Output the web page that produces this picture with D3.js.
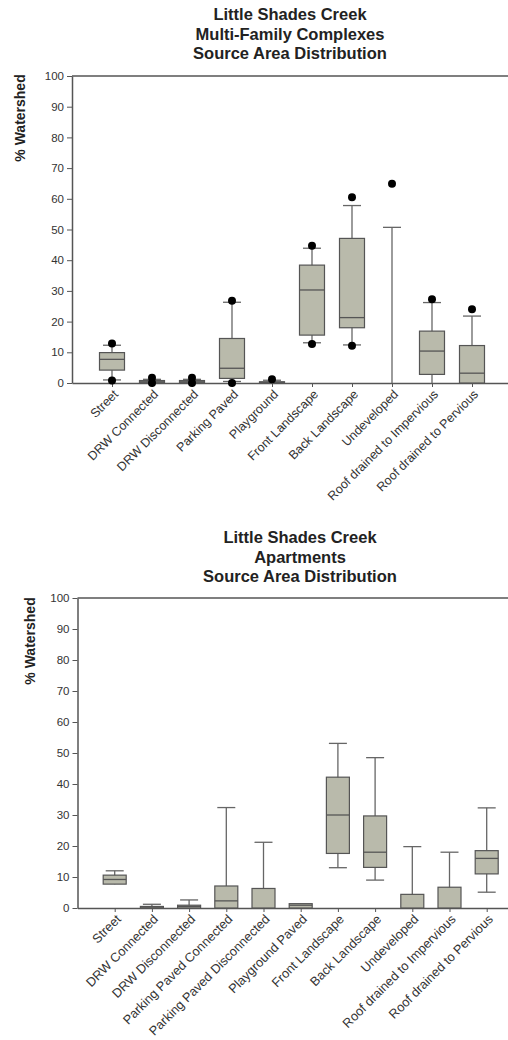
<!DOCTYPE html>
<html>
<head>
<meta charset="utf-8">
<script src="https://cdn.jsdelivr.net/npm/d3@7"></script>
<style>
  body { margin: 0; background: #fff; }
  text { font-family: "Liberation Sans", Arial, sans-serif; fill: #333; }
  .title { font-weight: bold; font-size: 16.5px; fill: #222; }
  .ylab { font-weight: bold; font-size: 14px; fill: #222; }
</style>
</head>
<body>
<div id="chart-container"></div>
<script>
const width = 508;
const height = 1040;

// --- top chart: Multi-Family Complexes ---
const cats1 = ["Street", "DRW Connected", "DRW Disconnected", "Parking Paved", "Playground",
  "Front Landscape", "Back Landscape", "Undeveloped", "Roof drained to Impervious", "Roof drained to Pervious"];
const lo1  = [1.0, 0, 0, 0.5, 0, 13.1, 12.4, 0, 0, 0];
const q1a  = [4.2, 0.1, 0.1, 1.5, 0, 15.6, 18.0, 0, 2.8, 0];
const med1 = [7.7, 0.4, 0.4, 4.8, 0.2, 30.3, 21.3, 0, 10.4, 3.2];
const q3a  = [9.9, 0.8, 0.8, 14.5, 0.4, 38.4, 47.1, 0, 16.9, 12.2];
const hi1  = [12.3, 1.2, 1.2, 26.3, 0.9, 43.9, 57.8, 50.7, 26.2, 21.8];
const dotLo1 = [0.8, 0, 0, 0, null, 12.7, 12.1, null, null, null];
const dotHi1 = [12.9, 1.7, 1.7, 26.8, 1.2, 44.7, 60.5, 64.9, 27.3, 24.0];

// --- bottom chart: Apartments ---
const cats2 = ["Street", "DRW Connected", "DRW Disconnected", "Parking Paved Connected",
  "Parking Paved Disconnected", "Playground Paved", "Front Landscape", "Back Landscape",
  "Undeveloped", "Roof drained to Impervious", "Roof drained to Pervious"];
const lo2  = [7.7, 0, 0, 0, 0, 0, 13.0, 9.0, 0, 0, 5.1];
const q1b  = [7.7, 0, 0, 0, 0, 0, 17.6, 13.1, 0, 0, 11.0];
const med2 = [9.2, 0.3, 0.5, 2.3, 0, 0.9, 30.0, 18.0, 0, 0, 16.0];
const q3b  = [10.6, 0.5, 0.9, 7.1, 6.3, 1.4, 42.2, 29.7, 4.4, 6.7, 18.5];
const hi2  = [12.0, 1.2, 2.6, 32.4, 21.2, 1.4, 53.1, 48.5, 19.8, 18.0, 32.3];

const yTicks = d3.range(0, 101, 10);

const svg = d3.select("#chart-container")
  .append("svg")
  .attr("width", width)
  .attr("height", height);

svg.append("rect").attr("width", width).attr("height", height).attr("fill", "#fff");

function drawChart(opt) {
  const g = svg.append("g");
  const x = d3.scalePoint().domain(opt.cats).range([opt.left, opt.left + opt.step * (opt.cats.length + 1)]).padding(1);
  const y = d3.scaleLinear().domain([0, 100]).range([opt.bottom, opt.top]);

  // title
  const t = g.append("text").attr("class", "title").attr("text-anchor", "middle");
  opt.title.forEach((line, i) => {
    t.append("tspan").attr("x", opt.titleX).attr("y", opt.titleY + i * 19.5).text(line);
  });

  // y label
  g.append("text").attr("class", "ylab")
    .attr("text-anchor", "middle")
    .attr("transform", `translate(${opt.ylabX},${opt.ylabY}) rotate(-90)`)
    .text("% Watershed");

  // top frame line
  g.append("line")
    .attr("x1", opt.left).attr("x2", width)
    .attr("y1", y(100)).attr("y2", y(100))
    .attr("stroke", "#555").attr("stroke-width", 1.5);

  // y axis
  const ya = g.append("g").attr("transform", `translate(${opt.left},0)`)
    .call(d3.axisLeft(y).tickValues(yTicks).tickSize(5).tickSizeOuter(0).tickPadding(3));
  ya.select(".domain").attr("stroke", "#555").attr("stroke-width", 1.5);
  ya.selectAll(".tick line").attr("stroke", "#555");
  ya.selectAll(".tick text").style("font-size", "11.5px").attr("fill", "#333");

  // x axis
  const xa = g.append("g").attr("transform", `translate(0,${opt.bottom})`)
    .call(d3.axisBottom(x).tickSize(4).tickSizeOuter(0).tickFormat(""));
  xa.select(".domain").attr("stroke", "#555").attr("stroke-width", 1.5);
  xa.selectAll(".tick line").attr("stroke", "#555");

  // rotated category labels
  g.append("g").selectAll("text")
    .data(opt.cats)
    .join("text")
    .attr("text-anchor", "end")
    .style("font-size", opt.labSize)
    .attr("fill", "#333")
    .attr("transform", d => `translate(${x(d) + 7},${opt.bottom + 12}) rotate(-45)`)
    .text(d => d);

  const bw = opt.boxW, cw = 18;
  const boxes = g.append("g").selectAll("g")
    .data(opt.cats.map((c, i) => ({ c, i })))
    .join("g");

  // whiskers
  boxes.append("line")
    .attr("x1", d => x(d.c)).attr("x2", d => x(d.c))
    .attr("y1", d => y(opt.lo[d.i])).attr("y2", d => y(opt.hi[d.i]))
    .attr("stroke", "#666").attr("stroke-width", 1.3);
  boxes.filter(d => opt.hi[d.i] > opt.q3[d.i]).append("line")
    .attr("x1", d => x(d.c) - cw / 2).attr("x2", d => x(d.c) + cw / 2)
    .attr("y1", d => y(opt.hi[d.i])).attr("y2", d => y(opt.hi[d.i]))
    .attr("stroke", "#666").attr("stroke-width", 1.3);
  boxes.filter(d => opt.lo[d.i] > 0 && opt.lo[d.i] < opt.q1[d.i]).append("line")
    .attr("x1", d => x(d.c) - cw / 2).attr("x2", d => x(d.c) + cw / 2)
    .attr("y1", d => y(opt.lo[d.i])).attr("y2", d => y(opt.lo[d.i]))
    .attr("stroke", "#666").attr("stroke-width", 1.3);

  // boxes
  boxes.filter(d => opt.q3[d.i] > opt.q1[d.i]).append("rect")
    .attr("x", d => x(d.c) - bw / 2).attr("width", bw)
    .attr("y", d => y(opt.q3[d.i]))
    .attr("height", d => y(opt.q1[d.i]) - y(opt.q3[d.i]))
    .attr("fill", "#b9baab").attr("stroke", "#555").attr("stroke-width", 1.2);
  boxes.filter(d => opt.q3[d.i] > opt.q1[d.i] && opt.med[d.i] > opt.q1[d.i]).append("line")
    .attr("x1", d => x(d.c) - bw / 2).attr("x2", d => x(d.c) + bw / 2)
    .attr("y1", d => y(opt.med[d.i])).attr("y2", d => y(opt.med[d.i]))
    .attr("stroke", "#555").attr("stroke-width", 1.3);

  // 5th / 95th percentile dots
  if (opt.dotHi) {
    boxes.filter(d => opt.dotHi[d.i] != null).append("circle")
      .attr("cx", d => x(d.c)).attr("cy", d => y(opt.dotHi[d.i])).attr("r", 4)
      .attr("fill", "#000");
    boxes.filter(d => opt.dotLo[d.i] != null).append("circle")
      .attr("cx", d => x(d.c)).attr("cy", d => y(opt.dotLo[d.i])).attr("r", 4)
      .attr("fill", "#000");
  }
}

drawChart({
  cats: cats1, lo: lo1, q1: q1a, med: med1, q3: q3a, hi: hi1, dotLo: dotLo1, dotHi: dotHi1,
  left: 72, step: 40, top: 76, bottom: 383, boxW: 25, labSize: "12.5px",
  title: ["Little Shades Creek", "Multi-Family Complexes", "Source Area Distribution"],
  titleX: 290, titleY: 20, ylabX: 25, ylabY: 118
});

drawChart({
  cats: cats2, lo: lo2, q1: q1b, med: med2, q3: q3b, hi: hi2,
  left: 77.5, step: 37.2, top: 598, bottom: 908, boxW: 23, labSize: "12.8px",
  title: ["Little Shades Creek", "Apartments", "Source Area Distribution"],
  titleX: 300, titleY: 543, ylabX: 35, ylabY: 641
});
</script>
</body>
</html>
